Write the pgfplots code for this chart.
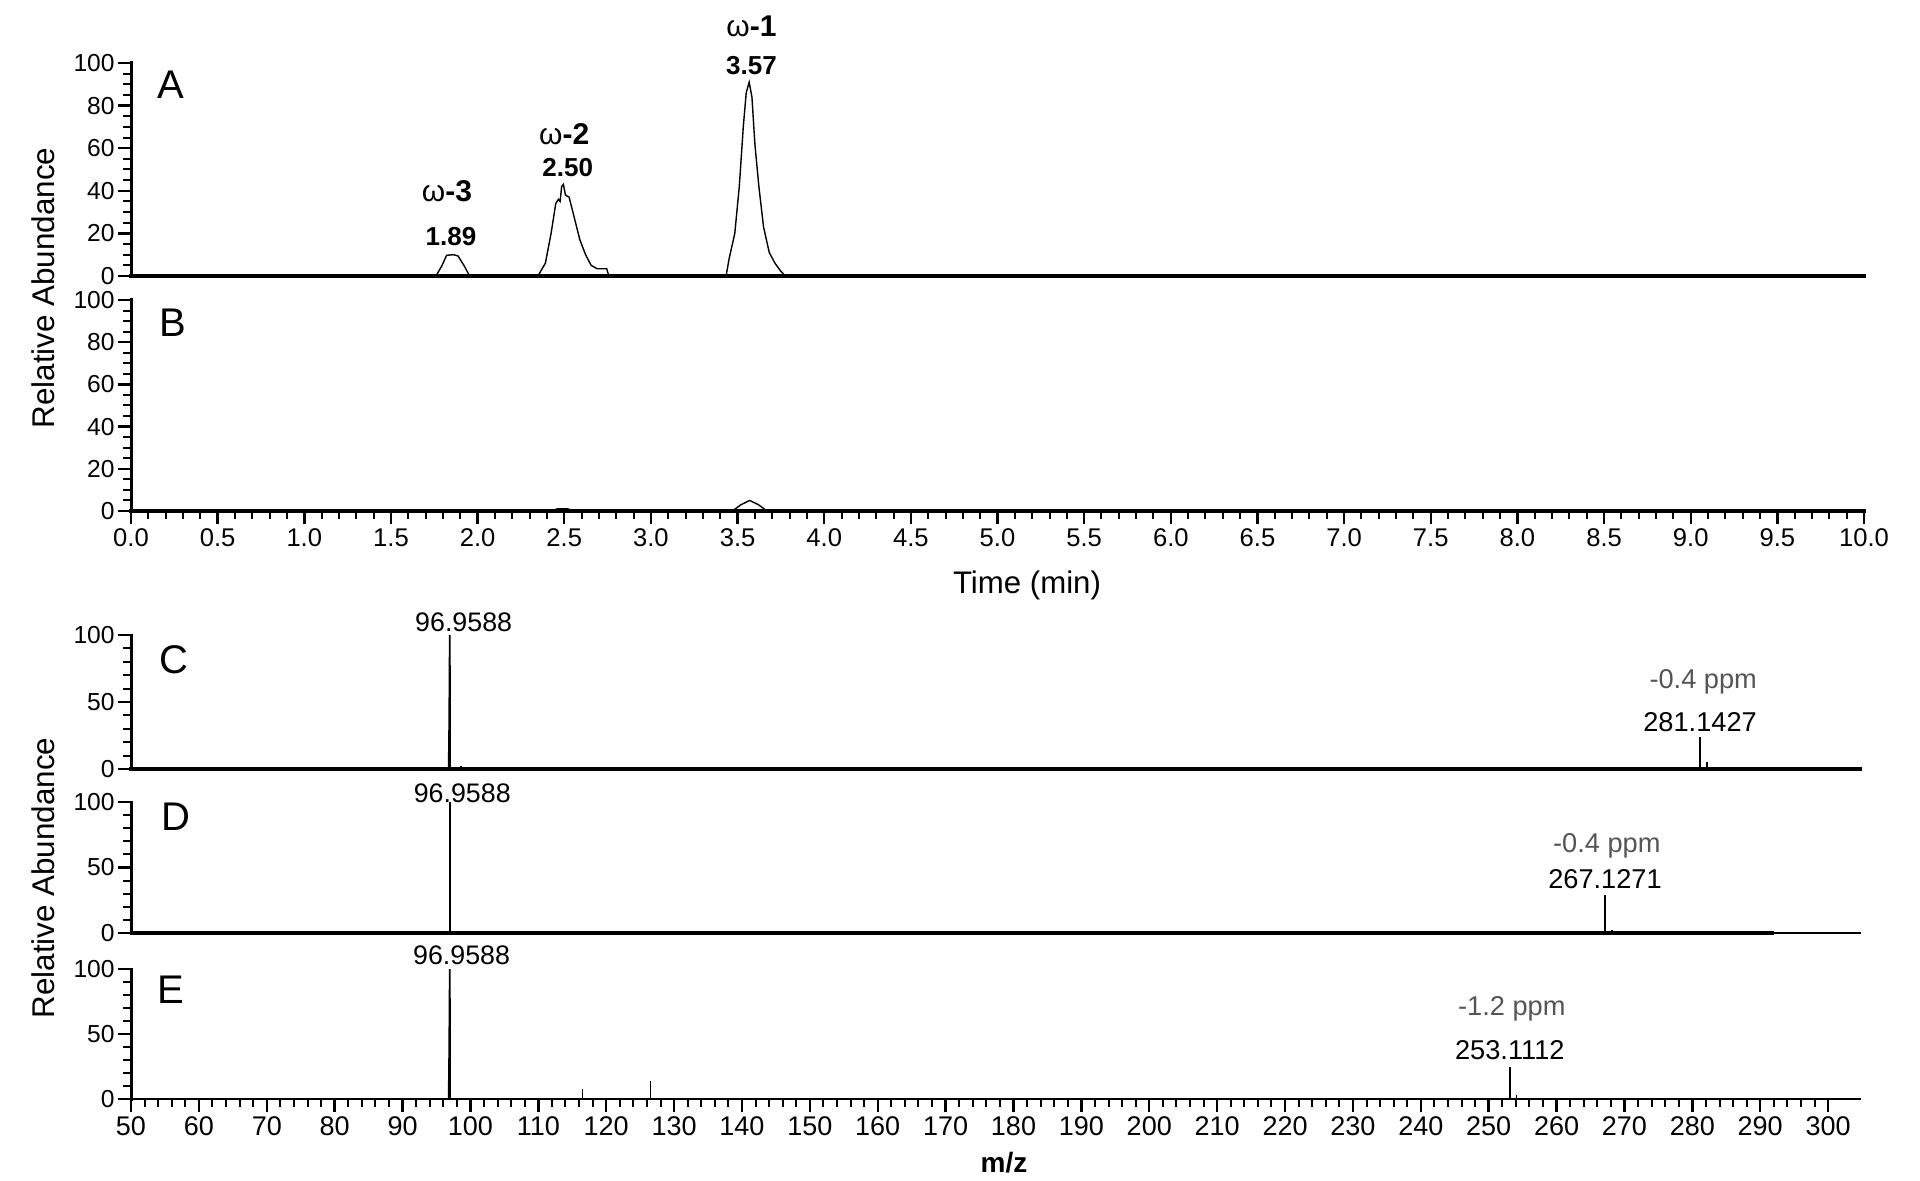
\documentclass[border=0pt]{standalone}
\usepackage{fontspec}
\setmainfont{Liberation Sans}
\usepackage{pgfplots}
\pgfplotsset{compat=1.18}
\definecolor{ppmgray}{RGB}{85,85,85}
\begin{document}
\begin{tikzpicture}
\path[use as bounding box] (0,0) rectangle (960pt,-590.5pt);
\pgfplotsset{
  base/.style={
    scale only axis, clip=false, axis lines*=left, tick align=outside,
    ymin=0, ymax=100,
    axis line style={line width=1.5pt, line cap=rect},
    major tick length=6.5pt, minor tick length=4pt,
    major tick style={line width=1.2pt, black},
    minor tick style={line width=1pt, black},
    /pgf/number format/assume math mode=true,
    yticklabel style={font=\fontsize{12.3}{13}\selectfont, inner sep=1.5pt},
    xticklabel style={inner sep=2pt},
  },
  chrom/.style={base, width=866.5pt, xmin=0, xmax=10,
    ytick={0,20,...,100}, minor y tick num=3},
  spec/.style={base, width=864.5pt, xmin=50, xmax=304.7,
    ytick={0,50,100}, minor y tick num=4},
  trace/.style={black, line width=0.7pt},
}

% ---------------- Panel A ----------------
\begin{axis}[chrom, at={(65.5pt,-31.5pt)}, anchor=north west, height=106.5pt,
  xtick=\empty, x axis line style={line width=2pt}]
\addplot[trace] coordinates {
(0,0) (1.760,0) (1.795,5) (1.821,9.7) (1.861,10) (1.887,9.4) (1.921,5) (1.954,0)
(2.348,0) (2.391,6) (2.424,20) (2.451,34) (2.466,36) (2.476,35) (2.485,42) (2.495,43)
(2.507,38) (2.528,37) (2.556,28) (2.590,17) (2.623,10) (2.655,5) (2.690,3.4) (2.745,3.4) (2.757,0)
(3.434,0) (3.451,8) (3.484,20) (3.510,42) (3.533,70) (3.550,86) (3.567,91) (3.583,84)
(3.600,62) (3.623,42) (3.650,23) (3.683,11) (3.716,6) (3.749,2.3) (3.776,0) (10,0)};
\node[font=\fontsize{15}{15}\selectfont] at (axis cs:3.58,117) {ω\textbf{-1}};
\node[font=\bfseries\fontsize{13}{13}\selectfont] at (axis cs:3.58,99) {3.57};
\node[font=\fontsize{15}{15}\selectfont] at (axis cs:2.50,66.4) {ω\textbf{-2}};
\node[font=\bfseries\fontsize{13}{13}\selectfont] at (axis cs:2.52,51) {2.50};
\node[font=\fontsize{15}{15}\selectfont] at (axis cs:1.823,39.7) {ω\textbf{-3}};
\node[font=\bfseries\fontsize{13}{13}\selectfont] at (axis cs:1.846,18.6) {1.89};
\end{axis}

% ---------------- Panel B ----------------
\begin{axis}[chrom, at={(65.5pt,-150pt)}, anchor=north west, height=105.5pt,
  xtick={0,0.5,...,10}, minor x tick num=4, x axis line style={line width=2pt},
  xticklabel style={font=\fontsize{12.8}{13}\selectfont,
    /pgf/number format/.cd, fixed, fixed zerofill, precision=1}]
\addplot[trace] coordinates {
(0,0) (2.42,0) (2.46,1) (2.52,1) (2.56,0) (3.47,0) (3.52,3) (3.57,5) (3.62,3) (3.67,0) (10,0)};
\end{axis}

% ---------------- Panel C ----------------
\begin{axis}[spec, at={(65.5pt,-317.5pt)}, anchor=north west, height=67pt,
  xtick=\empty, x axis line style={line width=2pt}]
\addplot[trace, line width=0.9pt] coordinates {(96.80,0) (96.88,35) (96.96,100) (97.00,0)};
\addplot[trace, ycomb, line width=0.8pt] coordinates {(98.6,2) (281.14,24) (282.14,5)};
\node[font=\fontsize{13.4}{14}\selectfont] at (axis cs:99.0,109.3) {96.9588};
\node[font=\fontsize{13.6}{14}\selectfont] at (axis cs:281.14,35.3) {281.1427};
\node[font=\fontsize{13.6}{14}\selectfont, text=ppmgray] at (axis cs:281.6,65.1) {-0.4 ppm};
\end{axis}

% ---------------- Panel D ----------------
\begin{axis}[spec, at={(65.5pt,-401pt)}, anchor=north west, height=65.5pt,
  xtick=\empty, x axis line style={line width=1pt}]
\addplot[black, line width=2pt, forget plot] coordinates {(50,0) (292,0)};
\addplot[trace, ycomb, line width=0.8pt] coordinates {(96.96,100) (216,1.2) (267.13,29) (268.13,2.5)};
\node[font=\fontsize{13.4}{14}\selectfont] at (axis cs:98.8,106.9) {96.9588};
\node[font=\fontsize{13.6}{14}\selectfont] at (axis cs:267.13,40.8) {267.1271};
\node[font=\fontsize{13.6}{14}\selectfont, text=ppmgray] at (axis cs:267.4,66.9) {-0.4 ppm};
\end{axis}

% ---------------- Panel E ----------------
\begin{axis}[spec, at={(65.5pt,-484.5pt)}, anchor=north west, height=65pt,
  xtick={50,60,...,300}, minor x tick num=4, x axis line style={line width=1.4pt},
  xticklabel style={font=\fontsize{13.5}{14}\selectfont}]
\addplot[trace, line width=0.9pt] coordinates {(96.80,0) (96.88,38) (96.96,100) (97.00,0)};
\addplot[trace, ycomb, line width=0.8pt] coordinates {(116.5,7.7) (126.5,13.8) (253.11,25) (254.11,3)};
\node[font=\fontsize{13.4}{14}\selectfont] at (axis cs:98.7,110.8) {96.9588};
\node[font=\fontsize{13.6}{14}\selectfont] at (axis cs:253.11,37.7) {253.1112};
\node[font=\fontsize{13.6}{14}\selectfont, text=ppmgray] at (axis cs:253.4,69.2) {-1.2 ppm};
\end{axis}

% ---------------- Labels ----------------
\node[anchor=west, font=\fontsize{20}{20}\selectfont] at (75pt,-42.5pt) {A};
\node[anchor=west, font=\fontsize{20}{20}\selectfont] at (76pt,-161.5pt) {B};
\node[anchor=west, font=\fontsize{20}{20}\selectfont] at (76pt,-330pt) {C};
\node[anchor=west, font=\fontsize{20}{20}\selectfont] at (77pt,-408.3pt) {D};
\node[anchor=west, font=\fontsize{20}{20}\selectfont] at (75pt,-495pt) {E};
\node[font=\fontsize{15.6}{16}\selectfont] at (513.5pt,-292.5pt) {Time (min)};
\node[font=\bfseries\fontsize{14}{14}\selectfont] at (502pt,-581.5pt) {m/z};
\node[rotate=90, font=\fontsize{15.7}{16}\selectfont] at (21.5pt,-144pt) {Relative Abundance};
\node[rotate=90, font=\fontsize{15.7}{16}\selectfont] at (21.5pt,-439pt) {Relative Abundance};
\end{tikzpicture}
\end{document}
